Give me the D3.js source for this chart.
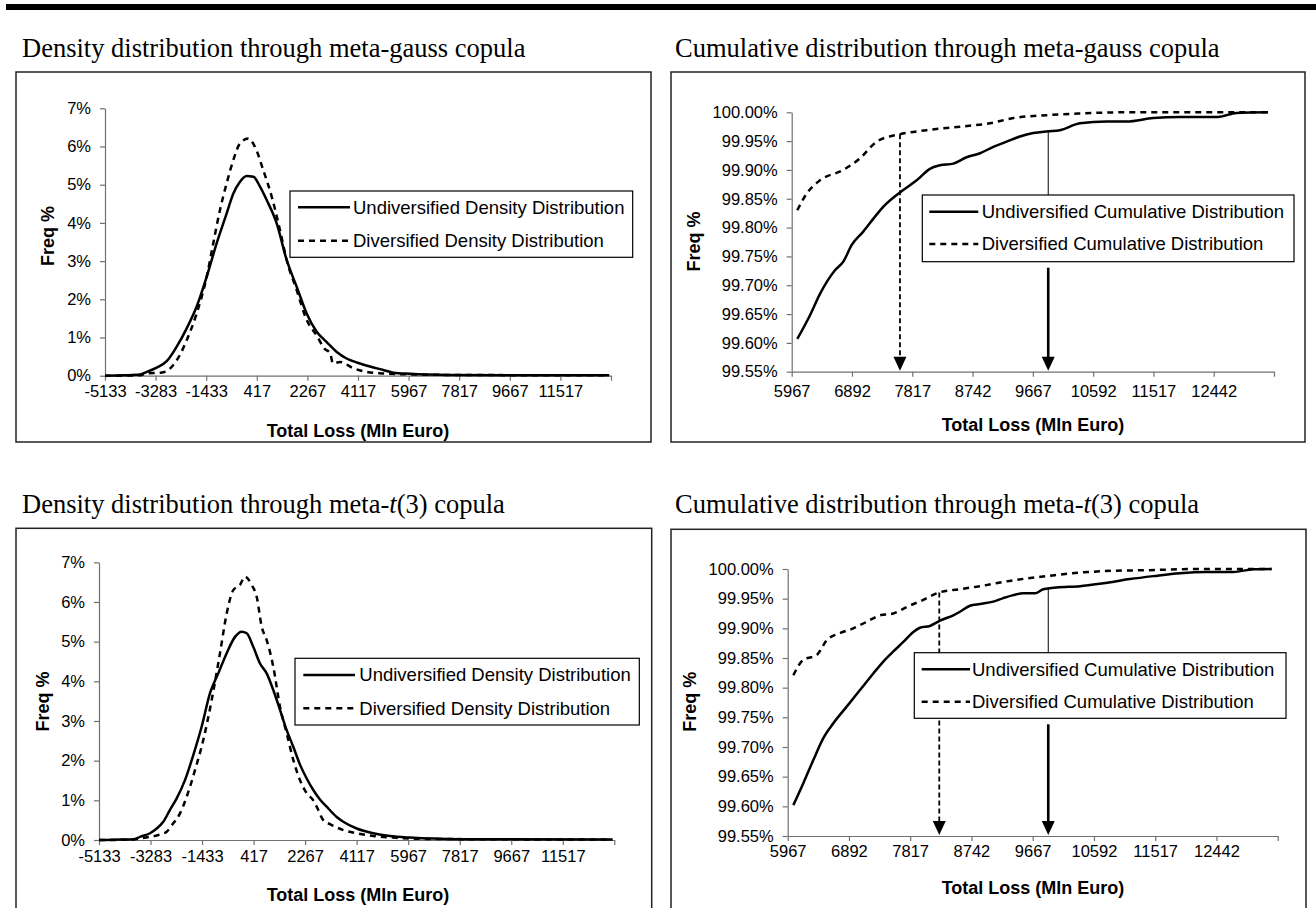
<!DOCTYPE html>
<html>
<head>
<meta charset="utf-8">
<script src="https://cdn.jsdelivr.net/npm/d3@7"></script>
<style>
  body { margin: 0; background: #fff; }
  svg { display: block; }
</style>
</head>
<body>
<svg id="chart" width="1316" height="908"></svg>
<script>
// ---- data ----
const densityTicks = d3.range(0, 11).map(k => -5133 + k * 1850);   // -5133 ... 13367
const cumulativeTicks = d3.range(0, 9).map(k => 5967 + k * 925);    // 5967 ... 13367
const densityPctTicks = [0, 1, 2, 3, 4, 5, 6, 7];
const cumulativePctTicks = [99.55, 99.60, 99.65, 99.70, 99.75, 99.80, 99.85, 99.90, 99.95, 100.00];

const seriesNames = ['Undiversified', 'Diversified'];

// [total loss (Mln Euro), freq %]
const gaussDensityUndiv = [
  [-5133, 0.00], [-4400, 0.01], [-3853, 0.03], [-3609, 0.10], [-3243, 0.21], [-2877, 0.38],
  [-2512, 0.76], [-2146, 1.24], [-1781, 1.81], [-1415, 2.59], [-1049, 3.47], [-684, 4.25],
  [-440, 4.77], [-197, 5.08], [47, 5.23], [291, 5.21], [534, 4.95], [778, 4.60], [1144, 3.99],
  [1509, 3.03], [1875, 2.33], [2240, 1.63], [2607, 1.15], [2972, 0.88], [3340, 0.62],
  [3700, 0.45], [4100, 0.34], [4556, 0.24], [5044, 0.15], [5409, 0.08], [6019, 0.05],
  [7480, 0.02], [9667, 0.01], [13300, 0.01]
];
const gaussDensityDiv = [
  [-5133, 0.00], [-3853, 0.01], [-3609, 0.06], [-3100, 0.08], [-2877, 0.12], [-2636, 0.28],
  [-2390, 0.55], [-2146, 0.93], [-1781, 1.63], [-1415, 2.59], [-1174, 3.47], [-929, 4.34],
  [-684, 5.04], [-440, 5.65], [-197, 6.08], [106, 6.21], [351, 5.99], [654, 5.38], [962, 4.69],
  [1265, 3.81], [1509, 3.03], [1875, 2.24], [2240, 1.46], [2607, 1.05], [2900, 0.70],
  [3093, 0.60], [3203, 0.32], [3459, 0.36], [3934, 0.20], [4435, 0.10], [5031, 0.06],
  [5652, 0.04], [7480, 0.02], [13300, 0.01]
];
const tDensityUndiv = [
  [-5133, 0.00], [-4400, 0.01], [-3901, 0.02], [-3661, 0.08], [-3302, 0.17], [-3062, 0.29],
  [-2825, 0.46], [-2584, 0.76], [-2344, 1.05], [-2046, 1.51], [-1748, 2.14], [-1446, 2.86],
  [-1148, 3.70], [-850, 4.20], [-549, 4.71], [-251, 5.12], [-10, 5.25], [169, 5.21], [406, 4.87],
  [647, 4.45], [887, 4.20], [1124, 3.78], [1365, 3.28], [1605, 2.77], [1842, 2.35], [2083, 1.90],
  [2323, 1.55], [2560, 1.26], [2800, 1.02], [3040, 0.84], [3400, 0.58], [3637, 0.46],
  [4118, 0.29], [4715, 0.17], [5314, 0.10], [6032, 0.06], [7827, 0.02], [13300, 0.01]
];
const tDensityDiv = [
  [-5133, 0.00], [-3901, 0.01], [-3661, 0.04], [-2943, 0.14], [-2703, 0.21], [-2466, 0.42],
  [-2225, 0.67], [-1985, 1.09], [-1687, 1.76], [-1389, 2.52], [-1087, 3.53], [-789, 4.71],
  [-549, 5.71], [-312, 6.30], [-71, 6.43], [108, 6.64], [349, 6.43], [529, 6.13], [708, 5.38],
  [887, 5.04], [1124, 4.37], [1365, 3.36], [1605, 2.69], [1842, 2.02], [2083, 1.51],
  [2323, 1.18], [2560, 1.00], [2682, 0.84], [2919, 0.50], [3160, 0.40], [3637, 0.25],
  [4118, 0.17], [4715, 0.10], [5425, 0.06], [6260, 0.03], [13300, 0.01]
];

const gaussCumUndiv = [
  [6053, 99.607], [6248, 99.648], [6401, 99.685], [6631, 99.726], [6759, 99.741], [6888, 99.770],
  [7065, 99.793], [7245, 99.819], [7347, 99.833], [7628, 99.861], [7884, 99.882], [8088, 99.902],
  [8241, 99.908], [8446, 99.911], [8651, 99.922], [8856, 99.929], [9060, 99.940], [9264, 99.949],
  [9469, 99.958], [9673, 99.964], [9900, 99.967], [10082, 99.969], [10389, 99.981],
  [10798, 99.984], [11104, 99.984], [11513, 99.990], [11922, 99.992], [12509, 99.992],
  [12791, 99.999], [13276, 100.000]
];
const gaussCumDiv = [
  [6053, 99.830], [6197, 99.859], [6401, 99.882], [6759, 99.900], [7014, 99.920], [7270, 99.949],
  [7628, 99.962], [8037, 99.969], [8549, 99.975], [9010, 99.981], [9367, 99.990], [9878, 99.995],
  [10389, 99.998], [11155, 100.000], [13276, 100.000]
];
const tCumUndiv = [
  [6052, 99.602], [6203, 99.639], [6354, 99.678], [6505, 99.715], [6656, 99.740], [6858, 99.768],
  [7059, 99.796], [7260, 99.824], [7411, 99.844], [7562, 99.861], [7713, 99.877], [7864, 99.894],
  [7965, 99.901], [8116, 99.904], [8267, 99.913], [8468, 99.922], [8569, 99.928], [8720, 99.938],
  [8871, 99.941], [9072, 99.945], [9223, 99.951], [9374, 99.956], [9525, 99.959], [9701, 99.959],
  [9827, 99.966], [10028, 99.969], [10381, 99.971], [10733, 99.976], [11136, 99.983],
  [11488, 99.988], [11891, 99.993], [12294, 99.995], [12697, 99.995], [12999, 99.9995],
  [13275, 100.000]
];
const tCumDiv = [
  [6052, 99.821], [6203, 99.847], [6405, 99.855], [6556, 99.880], [6757, 99.892], [6958, 99.900],
  [7160, 99.911], [7361, 99.922], [7562, 99.925], [7764, 99.936], [8015, 99.948], [8241, 99.960],
  [8569, 99.966], [8871, 99.971], [9374, 99.981], [9878, 99.988], [10381, 99.994],
  [10884, 99.997], [11388, 99.998], [12143, 100.000], [13275, 100.000]
];

// loss levels marked with the arrows
const varGauss = [9903, 7628];   // undiversified, diversified
const varT = [9902, 8256];

// ---- layout ----
const axisColor = '#707070';
const sans = 'Arial, "Liberation Sans", sans-serif';
const serif = '"Times New Roman", "Liberation Serif", serif';
const tickFont = 16.5;

const svg = d3.select('#chart');

svg.append('rect')
    .attr('x', 6).attr('y', 4)
    .attr('width', 1310).attr('height', 6)
    .attr('fill', '#000');

const titles = [
  {x: 22, y: 57, parts: ['Density distribution through meta-gauss copula']},
  {x: 675, y: 57, parts: ['Cumulative distribution through meta-gauss copula']},
  {x: 22, y: 513, parts: ['Density distribution through meta-', 't', '(3) copula']},
  {x: 675, y: 513, parts: ['Cumulative distribution through meta-', 't', '(3) copula']},
];
titles.forEach(t => {
  const text = svg.append('text')
      .attr('x', t.x).attr('y', t.y)
      .attr('font-family', serif)
      .attr('font-size', 26.5)
      .attr('fill', '#000');
  t.parts.forEach((s, i) => {
    text.append('tspan').text(s).attr('font-style', i === 1 ? 'italic' : null);
  });
});

function valueAt(series, v) {
  const i = d3.bisector(d => d[0]).left(series, v);
  if (i <= 0) return series[0][1];
  if (i >= series.length) return series[series.length - 1][1];
  const a = series[i - 1], b = series[i];
  return a[1] + (b[1] - a[1]) * (v - a[0]) / (b[0] - a[0]);
}

function arrowHead(g, x, tipY) {
  g.append('path')
      .attr('d', `M${x - 6.5},${tipY - 14}L${x + 6.5},${tipY - 14}L${x},${tipY}Z`)
      .attr('fill', '#000');
}

const panels = [
  {
    box: [16, 72, 635, 370],
    plot: {left: 105, right: 611, top: 108.3, bottom: 375.7},
    xDomain: [-5133, 13367], yDomain: [0, 7],
    xTicks: densityTicks, yTicks: densityPctTicks, yFormat: d => d + '%', xPad: 5,
    series: [gaussDensityUndiv, gaussDensityDiv], kind: 'Density',
    legend: {x: 290, y: 191, w: 342.7, h: 66.3, rows: [207.3, 240.7], line: [298, 350], textX: 353},
    yTitle: [48, 236], xTitle: [358, 437],
  },
  {
    box: [671, 72, 634, 370],
    plot: {left: 791.7, right: 1274, top: 112.3, bottom: 371.7},
    xDomain: [5967, 13367], yDomain: [99.55, 100],
    xTicks: cumulativeTicks, yTicks: cumulativePctTicks, yFormat: d => d.toFixed(2) + '%', xPad: 9,
    series: [gaussCumUndiv, gaussCumDiv], kind: 'Cumulative', vars: varGauss,
    legend: {x: 922.3, y: 195, w: 371.7, h: 66.7, rows: [211.7, 244], line: [929.3, 978.3], textX: 981.7},
    yTitle: [694, 241.5], xTitle: [1033, 431],
  },
  {
    box: [16, 528.3, 635.7, 400],
    plot: {left: 99, right: 614.3, top: 562.3, bottom: 840},
    xDomain: [-5133, 13367], yDomain: [0, 7],
    xTicks: densityTicks, yTicks: densityPctTicks, yFormat: d => d + '%', xPad: 5,
    series: [tDensityUndiv, tDensityDiv], kind: 'Density',
    legend: {x: 295, y: 658.3, w: 344.3, h: 66.7, rows: [675, 708.3], line: [303.3, 355], textX: 359.3},
    yTitle: [43, 701.5], xTitle: [358, 901],
  },
  {
    box: [671, 529.3, 635, 400],
    plot: {left: 787.7, right: 1277.7, top: 569, bottom: 836},
    xDomain: [5967, 13367], yDomain: [99.55, 100],
    xTicks: cumulativeTicks, yTicks: cumulativePctTicks, yFormat: d => d.toFixed(2) + '%', xPad: 4,
    series: [tCumUndiv, tCumDiv], kind: 'Cumulative', vars: varT,
    legend: {x: 914.3, y: 652.7, w: 371.7, h: 65.6, rows: [669.3, 701.7], line: [921.7, 970], textX: 972},
    yTitle: [690, 701.7], xTitle: [1033, 894],
  },
];

function drawPanel(p) {
  const g = svg.append('g');

  g.append('rect')
      .attr('x', p.box[0]).attr('y', p.box[1])
      .attr('width', p.box[2]).attr('height', p.box[3])
      .attr('fill', 'none')
      .attr('stroke', '#222')
      .attr('stroke-width', 1.5);

  const x = d3.scaleLinear().domain(p.xDomain).range([p.plot.left, p.plot.right]);
  const y = d3.scaleLinear().domain(p.yDomain).range([p.plot.bottom, p.plot.top]);

  const xAxis = d3.axisBottom(x)
      .tickValues(p.xTicks)
      .tickFormat((d, i) => i < p.xTicks.length - 1 ? String(d) : '')
      .tickSize(5).tickSizeOuter(0).tickPadding(p.xPad);
  const yAxis = d3.axisLeft(y)
      .tickValues(p.yTicks)
      .tickFormat(p.yFormat)
      .tickSize(5).tickSizeOuter(0).tickPadding(9);

  const gx = g.append('g')
      .attr('transform', `translate(0,${p.plot.bottom})`)
      .call(xAxis);
  const gy = g.append('g')
      .attr('transform', `translate(${p.plot.left},0)`)
      .call(yAxis);
  [gx, gy].forEach(a => {
    a.select('.domain').attr('stroke', axisColor).attr('stroke-width', 1.2);
    a.selectAll('.tick line').attr('stroke', axisColor).attr('stroke-width', 1.2);
    a.selectAll('.tick text')
        .attr('font-family', sans)
        .attr('font-size', tickFont)
        .attr('fill', '#000');
  });

  g.append('text')
      .attr('transform', `translate(${p.yTitle[0]},${p.yTitle[1]}) rotate(-90)`)
      .attr('text-anchor', 'middle')
      .attr('dy', '0.35em')
      .attr('font-family', sans).attr('font-weight', 'bold').attr('font-size', 18)
      .text('Freq %');
  g.append('text')
      .attr('x', p.xTitle[0]).attr('y', p.xTitle[1])
      .attr('text-anchor', 'middle')
      .attr('font-family', sans).attr('font-weight', 'bold').attr('font-size', 18)
      .text('Total Loss (Mln Euro)');

  const line = d3.line()
      .x(d => x(d[0]))
      .y(d => y(d[1]))
      .curve(d3.curveMonotoneX);

  // diversified first, undiversified on top
  [1, 0].forEach(k => {
    g.append('path')
        .datum(p.series[k])
        .attr('d', line)
        .attr('fill', 'none')
        .attr('stroke', '#000')
        .attr('stroke-width', 2.5)
        .attr('stroke-linejoin', 'round')
        .attr('stroke-dasharray', k === 1 ? '6,5' : null);
  });

  const L = p.legend;
  const tipY = p.plot.bottom - 1;

  if (p.vars) {
    // diversified loss level: dashed arrow from the curve to the axis
    const xd = x(p.vars[1]);
    g.append('line')
        .attr('x1', xd).attr('x2', xd)
        .attr('y1', y(valueAt(p.series[1], p.vars[1])))
        .attr('y2', tipY - 12)
        .attr('stroke', '#000').attr('stroke-width', 1.8)
        .attr('stroke-dasharray', '5,3');
    arrowHead(g, xd, tipY);

    // undiversified: thin drop line down to the legend
    const xu = x(p.vars[0]);
    g.append('line')
        .attr('x1', xu).attr('x2', xu)
        .attr('y1', y(valueAt(p.series[0], p.vars[0])))
        .attr('y2', L.y)
        .attr('stroke', '#000').attr('stroke-width', 1);
  }

  const lg = g.append('g');
  lg.append('rect')
      .attr('x', L.x).attr('y', L.y).attr('width', L.w).attr('height', L.h)
      .attr('fill', '#fff').attr('stroke', '#000').attr('stroke-width', 1.2);
  seriesNames.forEach((name, k) => {
    lg.append('line')
        .attr('x1', L.line[0]).attr('x2', L.line[1])
        .attr('y1', L.rows[k]).attr('y2', L.rows[k])
        .attr('stroke', '#000').attr('stroke-width', 2.5)
        .attr('stroke-dasharray', k === 1 ? '6,5' : null);
    lg.append('text')
        .attr('x', L.textX).attr('y', L.rows[k])
        .attr('dy', '0.35em')
        .attr('font-family', sans).attr('font-size', 18.5)
        .text(`${name} ${p.kind} Distribution`);
  });

  if (p.vars) {
    const xu = x(p.vars[0]);
    g.append('line')
        .attr('x1', xu).attr('x2', xu)
        .attr('y1', L.y + L.h + 6)
        .attr('y2', tipY - 12)
        .attr('stroke', '#000').attr('stroke-width', 2.6);
    arrowHead(g, xu, tipY);
  }
}

panels.forEach(drawPanel);
</script>
</body>
</html>
